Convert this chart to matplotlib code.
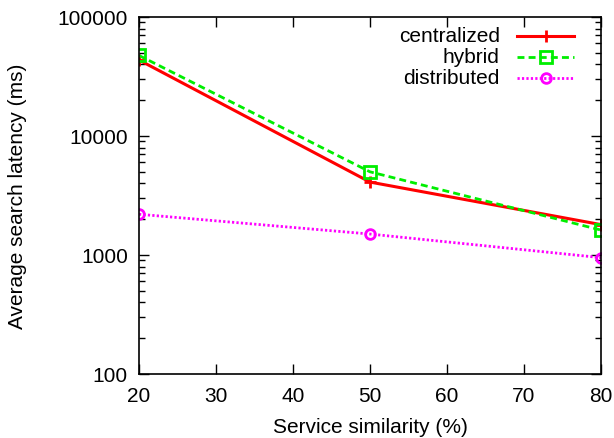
import matplotlib
matplotlib.use("Agg")
import matplotlib.pyplot as plt
from matplotlib.lines import Line2D

#------------------------------------------------------------------------------
#                   data
#------------------------------------------------------------------------------
similarity = [20, 50, 80]
centralized = [43500, 4100, 1800]
hybrid = [47500, 5000, 1620]
distributed = [2200, 1500, 950]

plt.rcParams['font.family'] = ['Liberation Sans', 'DejaVu Sans']
plt.rcParams['font.size'] = 15

fig = plt.figure(figsize=(6.14, 4.39), dpi=100)
ax = fig.add_axes([0.2264, 0.1458, 0.7524, 0.8132])

series = [
    ("centralized", centralized, dict(color='#ff0000', linestyle='-', lw=2.2, marker='+', ms=9, mew=2)),
    ("hybrid", hybrid, dict(color='#00ee00', linestyle=(0, (2.5, 1.5)), lw=2, marker='s', ms=8, mfc='none', mew=2)),
    ("distributed", distributed, dict(color='#ff00ff', linestyle=(0, (0.8, 0.8)), lw=2, marker='o', ms=7, mfc='none', mew=2)),
]
for name, vals, style in series:
    ax.plot(similarity, vals, **style)

ax.set_yscale('log')
ax.set_xlim(20, 80)
ax.set_ylim(100, 100000)
ax.set_xticks([20, 30, 40, 50, 60, 70, 80])
ax.set_yticks([100, 1000, 10000, 100000])
ax.set_yticklabels(['100', '1000', '10000', '100000'])
ax.tick_params(which='both', direction='in', top=True, right=True, labelsize=15)
ax.tick_params(which='major', length=7, width=1)
ax.tick_params(axis='x', which='major', pad=9)
ax.tick_params(axis='y', which='major', pad=8)
ax.tick_params(which='minor', length=4, width=1)
for s in ax.spines.values():
    s.set_linewidth(1.2)

ax.set_xlabel('Service similarity (%)', fontsize=15, labelpad=8)
ax.set_ylabel('Average search latency (ms)', fontsize=15, labelpad=22)

# gnuplot style key: right-aligned text, sample to the right
row_y = [0.948, 0.889, 0.830]
for (name, vals, style), yy in zip(series, row_y):
    ax.text(0.781, yy, name, transform=ax.transAxes, ha='right', va='center', fontsize=15)
    ln = Line2D([0.818, 0.942], [yy, yy], transform=ax.transAxes,
                **{k: v for k, v in style.items() if k != 'marker'})
    ax.add_line(ln)
    mk = Line2D([0.881], [yy], transform=ax.transAxes, linestyle='none',
                **{k: v for k, v in style.items() if k not in ('linestyle', 'lw')})
    ax.add_line(mk)

fig.savefig('out.png', dpi=100)
